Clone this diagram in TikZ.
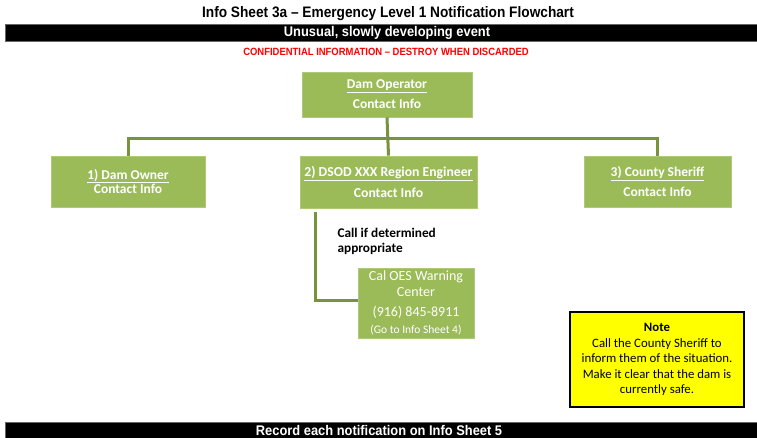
\documentclass[tikz,border=0pt]{standalone}
\usepackage{fontspec}
\setmainfont{Carlito}
\newfontfamily\narrowfont{Liberation Sans}[FakeStretch=0.9]
\newfontfamily\narrowfontb{Liberation Sans}[FakeStretch=0.92]
\definecolor{boxgreen}{HTML}{9BBB59}
\definecolor{linegreen}{HTML}{77933C}
\definecolor{noteyellow}{HTML}{FFFF00}
\definecolor{confred}{HTML}{FF0000}
\begin{document}
\begin{tikzpicture}[x=1pt,y=-1pt,
  gbox/.style={fill=boxgreen, draw=boxgreen!80!white, line width=0.6pt, text=white, align=center, inner sep=0pt},
  conn/.style={draw=linegreen, line width=3pt, line join=miter},
  bar/.style={fill=black, draw=black!60, line width=0.5pt},
  bartext/.style={text=white, font=\narrowfontb\bfseries\fontsize{14}{16}\selectfont}]
\useasboundingbox (0,0) rectangle (757,438);
% title
\node[font=\narrowfont\bfseries\fontsize{15.2}{17}\selectfont] (title) at (388,14) {Info Sheet 3a \textendash{} Emergency Level 1 Notification Flowchart};
\path[bar] (5,24) rectangle (757,41);
\node[bartext] (sub) at (387,32.5) {Unusual, slowly developing event};
\node[text=confred, font=\narrowfont\bfseries\fontsize{10.5}{12}\selectfont] (conf) at (386,52) {CONFIDENTIAL INFORMATION \textendash{} DESTROY WHEN DISCARDED};
% boxes
\node[gbox, font=\bfseries\fontsize{13.5}{20}\selectfont, minimum width=170, minimum height=45] (op) at (387,94.5)
  {\underline{Dam Operator}\\Contact Info};
\node[gbox, font=\bfseries\fontsize{13.5}{14.5}\selectfont, minimum width=154, minimum height=51] (owner) at (128,181.5)
  {\underline{1) Dam Owner}\\Contact Info};
\node[gbox, font=\bfseries\fontsize{13.7}{21}\selectfont, minimum width=177, minimum height=52] (dsod) at (388.5,182)
  {\underline{2) DSOD XXX Region Engineer}\\Contact Info};
\node[gbox, font=\bfseries\fontsize{13.5}{20}\selectfont, minimum width=147, minimum height=51] (sheriff) at (657.5,181.5)
  {\underline{3) County Sheriff}\\Contact Info};
\node[gbox, font=\fontsize{14}{16}\selectfont, minimum width=116, minimum height=70] (oes) at (416,303)
  {Cal OES Warning\\Center\\[4pt](916) 845-8911\\[1pt]{\fontsize{11.5}{12}\selectfont (Go to Info Sheet 4)}};
% connectors
\coordinate (hm) at (388,139);
\draw[conn] (op.south) -- (dsod.north);
\draw[conn] (owner.north) |- (hm) -| (sheriff.north);
\draw[conn] ([xshift=16pt,yshift=-4pt]dsod.south west) |- ([yshift=3pt]oes.west);
\node[anchor=north west, align=left, font=\bfseries\fontsize{13.3}{15}\selectfont] (call) at (334,225)
  {Call if determined\\appropriate};
% note
\node[fill=noteyellow, draw=black, line width=2.5pt, minimum width=174, minimum height=95, align=center, inner sep=0pt, font=\fontsize{12.8}{15.5}\selectfont] (note) at (657,359.5)
  {\textbf{Note}\\Call the County Sheriff to\\inform them of the situation.\\Make it clear that the dam is\\currently safe.};
% bottom bar
\path[bar] (5,422) rectangle (757,438);
\node[bartext] (rec) at (379,430.5) {Record each notification on Info Sheet 5};
\end{tikzpicture}
\end{document}
